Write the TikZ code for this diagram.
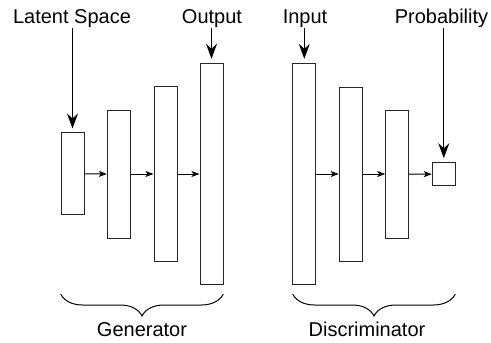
\documentclass[tikz,border=0pt]{standalone}
\usepackage{fontspec}
\setmainfont{Liberation Sans}
\usetikzlibrary{arrows.meta,decorations.pathreplacing}
\begin{document}
\begin{tikzpicture}[x=1pt,y=-1pt,
 box/.style={draw=black!85,line width=1pt,rectangle,inner sep=0pt,minimum width=23pt},
 lbl/.style={font=\fontsize{20}{24}\selectfont,inner sep=1pt,anchor=base},
 big/.style={line width=1pt,-{Stealth[length=15pt,width=11pt,inset=5pt]},shorten >=4pt},
 small/.style={line width=1pt,-{Stealth[length=8pt,width=6pt,inset=2pt]}},
 brc/.style={line width=1pt,decorate,decoration={brace,amplitude=22pt}}]
\useasboundingbox (0,0) rectangle (491,343);
% generator
\node[box,minimum height=81.7pt] (g1) at (72.5,173.8) {};
\node[box,minimum height=128pt] (g2) at (118.8,174) {};
\node[box,minimum height=174.6pt] (g3) at (165.5,174) {};
\node[box,minimum height=221.4pt] (g4) at (211.5,174) {};
% discriminator
\node[box,minimum height=221.4pt] (d1) at (304.3,174) {};
\node[box,minimum height=174pt] (d2) at (350.7,174) {};
\node[box,minimum height=128pt] (d3) at (397.2,174) {};
\node[box,minimum height=23pt] (d4) at (443.8,174.2) {};
% connectors
\draw[small] (g1.east) -- (g2.west);
\draw[small] (g2.east) -- (g3.west);
\draw[small] (g3.east) -- (g4.west);
\draw[small] (d1.east) -- (d2.west);
\draw[small] (d2.east) -- (d3.west);
\draw[small] (d3.east) -- (d4.west);
% labels
\node[lbl] (lat) at (72,23) {Latent Space};
\node[lbl] (out) at (212,23) {Output};
\node[lbl] (inp) at (305,23) {Input};
\node[lbl] (prob) at (441.5,23) {Probability};
\draw[big] (lat.south -| g1.north) -- (g1.north);
\draw[big] (out.south -| g4.north) -- (g4.north);
\draw[big] (inp.south -| d1.north) -- (d1.north);
\draw[big] (prob.south -| d4.north) -- (d4.north);
% braces
\coordinate (gbR) at (223.3,294);
\coordinate (gbL) at (60.7,294);
\coordinate (dbR) at (455.3,294);
\coordinate (dbL) at (292.7,294);
\draw[brc] (gbR) -- (gbL);
\draw[brc] (dbR) -- (dbL);
\node[lbl] (gen) at (142,336.7) {Generator};
\node[lbl] (dis) at (367,336.7) {Discriminator};
\end{tikzpicture}
\end{document}
